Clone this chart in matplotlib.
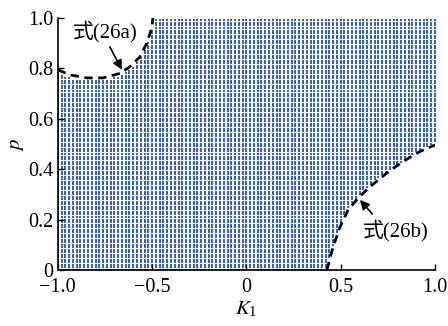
import matplotlib.pyplot as plt
import numpy as np

plt.rcParams['font.family'] = ['Liberation Serif', 'Noto Sans CJK SC']
plt.rcParams['mathtext.fontset'] = 'stix'

# boundary (26a): upper-left curve
ka = [-1.0, -0.936, -0.846, -0.76, -0.67, -0.62, -0.565, -0.528, -0.50, -0.496]
pa = [0.794, 0.774, 0.762, 0.762, 0.78, 0.805, 0.845, 0.90, 0.964, 1.0]
# boundary (26b): lower-right curve
kb = [0.427, 0.459, 0.496, 0.539, 0.592, 0.655, 0.745, 0.83, 0.92, 1.0]
pb = [0.0, 0.09, 0.17, 0.238, 0.285, 0.33, 0.385, 0.43, 0.47, 0.496]

# sampling grid of the stable region
k_grid = np.linspace(-1, 1, 101)
p_grid = np.linspace(0, 1, 101)

K, P = np.meshgrid(k_grid, p_grid)
K = K.ravel()
P = P.ravel()
upper = np.where(K < ka[-1], np.interp(K, ka, pa), 1.01)
lower = np.where(K > kb[0], np.interp(K, kb, pb), -0.01)
mask = (P <= upper - 0.012) & (P >= lower + 0.005)

fig = plt.figure(figsize=(4.48, 3.26), dpi=100)
ax = fig.add_axes([0.129, 0.172, 0.842, 0.773])
ax.scatter(K[mask], P[mask], s=2.6, marker='s', color='#3462bd', linewidths=0)
ax.plot(ka, pa, 'k--', lw=2.0, dashes=(3, 2))
ax.plot(kb, pb, 'k--', lw=2.0, dashes=(3, 2))

ax.set_xlim(-1, 1)
ax.set_ylim(0, 1)
ax.set_xticks([-1, -0.5, 0, 0.5, 1])
ax.set_xticklabels(['\u22121.0', '\u22120.5', '0', '0.5', '1.0'])
ax.set_yticks([0, 0.2, 0.4, 0.6, 0.8, 1.0])
ax.set_yticklabels(['0', '0.2', '0.4', '0.6', '0.8', '1.0'])
ax.tick_params(direction='in', labelsize=14.5, length=4, width=1, pad=3)
ax.tick_params(axis='x', pad=6)
for s in ['top', 'right']:
    ax.spines[s].set_visible(False)
for s in ['left', 'bottom']:
    ax.spines[s].set_linewidth(1.2)
ax.set_xlabel('$K_{\\mathregular{1}}$', fontsize=15, labelpad=2)
ax.set_ylabel('$p$', fontsize=15, labelpad=2)

ax.text(-0.75, 0.944, '式(26a)', fontsize=15, ha='center', va='center')
ax.annotate('', xy=(-0.66, 0.794), xytext=(-0.724, 0.885),
            arrowprops=dict(arrowstyle='-|>', color='k', lw=1.2,
                            mutation_scale=14, shrinkA=0, shrinkB=0))
ax.text(0.793, 0.155, '式(26b)', fontsize=15, ha='center', va='center')
ax.annotate('', xy=(0.602, 0.278), xytext=(0.668, 0.222),
            arrowprops=dict(arrowstyle='-|>', color='k', lw=1.2,
                            mutation_scale=14, shrinkA=0, shrinkB=0))

fig.savefig('out.png', dpi=100)
